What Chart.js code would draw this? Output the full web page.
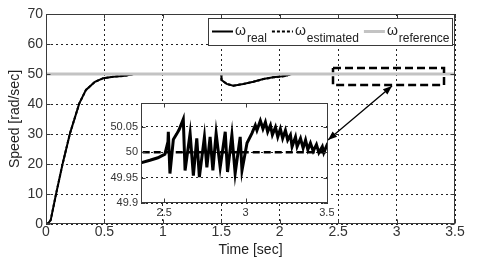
<!DOCTYPE html>
<html><head><meta charset="utf-8">
<script src="https://cdn.jsdelivr.net/npm/chart.js@4"></script>
<style>
html,body{margin:0;padding:0;background:#fff;}
#wrap{position:relative;width:480px;height:264px;overflow:hidden;}
#main{position:absolute;left:0;top:0;}
#inset{position:absolute;left:100px;top:93px;}
</style></head><body>
<div id="wrap"><canvas id="main" width="480" height="264"></canvas><canvas id="inset" width="234" height="135"></canvas></div>
<script>
// ---- data ----
const mainTime  = [0, 0.02, 0.04, 0.086, 0.143, 0.205, 0.285, 0.342, 0.419, 0.49, 0.576, 0.676, 0.75, 1.5, 1.502, 1.546, 1.603, 1.688, 1.774, 1.86, 1.945, 2.045, 2.1, 3.5];
const mainSpeed = [0, 0.3, 1.3, 10, 20.2, 30.2, 40.2, 44.7, 47.4, 48.6, 49.1, 49.4, 50, 50, 48.0, 46.7, 46.1, 46.7, 47.4, 48.3, 48.9, 49.3, 50, 50];
const refTime  = [0, 3.5];
const refSpeed = [50, 50];

const insetTime = [2.356, 2.412, 2.461, 2.504, 2.523, 2.525, 2.535, 2.556, 2.577, 2.591, 2.617, 2.628, 2.659, 2.679, 2.700, 2.716, 2.747, 2.762, 2.782, 2.799, 2.819, 2.844, 2.875, 2.889, 2.916, 2.936, 2.967, 2.978, 3.009, 3.039, 3.060, 3.070, 3.091, 3.107, 3.122, 3.136, 3.153, 3.165, 3.184, 3.198, 3.214, 3.228, 3.245, 3.259, 3.276, 3.286, 3.307, 3.317, 3.338, 3.354, 3.369, 3.383, 3.399, 3.416, 3.436, 3.451, 3.472, 3.481, 3.506];
const insetSpeed = [49.979, 49.984, 49.989, 49.996, 50.021, 50.040, 49.958, 50.025, 50.036, 50.044, 50.065, 49.964, 50.037, 49.954, 50.027, 49.951, 50.030, 49.970, 50.030, 49.964, 50.037, 49.970, 50.040, 49.961, 50.034, 49.958, 50.030, 49.964, 50.018, 50.037, 50.053, 50.043, 50.062, 50.046, 50.059, 50.040, 50.053, 50.034, 50.049, 50.030, 50.046, 50.027, 50.043, 50.024, 50.034, 50.011, 50.030, 50.011, 50.027, 50.008, 50.024, 50.005, 50.018, 50.002, 50.015, 49.999, 50.011, 49.999, 50.018];
const insetEstTime  = [2.3, 3.6];
const insetEstSpeed = [50, 50];

const mainXTicks  = [0, 0.5, 1, 1.5, 2, 2.5, 3, 3.5];
const mainYTicks  = [0, 10, 20, 30, 40, 50, 60, 70];
const insetXTicks = [2.5, 3, 3.5];
const insetYTicks = [49.9, 49.95, 50, 50.05];

const legendSymbol = 'ω';
const legendSubs = ['real', 'estimated', 'reference'];

const zoomBoxTime  = [2.456, 3.406, 3.406, 2.456, 2.456];
const zoomBoxSpeed = [52, 52, 46.3, 46.3, 52];
const arrowTime  = [2.413, 2.961];
const arrowSpeed = [28, 46];

// ---- helpers ----
const FONT = '"Liberation Sans", Arial, Helvetica, sans-serif';
const pts = (xs, ys) => xs.map((x, i) => ({x: x, y: ys[i]}));
const setTicks = arr => scale => { scale.ticks = arr.map(v => ({value: v})); };

const framePlugin = {
  id: 'frame',
  afterDatasetsDraw(chart) {
    const {ctx, chartArea: a, scales: {x, y}} = chart;
    ctx.save();
    ctx.setLineDash([]);
    ctx.strokeStyle = '#3a3a3a';
    ctx.lineWidth = 1;
    const l = Math.round(a.left) + 0.5, t = Math.round(a.top) + 0.5;
    const r = Math.round(a.right) - 0.5, b = Math.round(a.bottom) - 0.5;
    ctx.strokeRect(l, t, r - l, b - t);
    const L = 4;
    ctx.beginPath();
    x.ticks.forEach(tk => {
      const px = Math.round(x.getPixelForValue(tk.value)) + 0.5;
      ctx.moveTo(px, t); ctx.lineTo(px, t + L);
      ctx.moveTo(px, b); ctx.lineTo(px, b - L);
    });
    y.ticks.forEach(tk => {
      const py = Math.round(y.getPixelForValue(tk.value)) + 0.5;
      ctx.moveTo(l, py); ctx.lineTo(l + L, py);
      ctx.moveTo(r, py); ctx.lineTo(r - L, py);
    });
    ctx.stroke();
    ctx.restore();
  }
};

const whiteAreaPlugin = {
  id: 'whiteArea',
  beforeDraw(chart) {
    const {ctx, chartArea: a} = chart;
    ctx.save();
    ctx.fillStyle = '#fff';
    ctx.fillRect(a.left, a.top, a.right - a.left, a.bottom - a.top);
    ctx.restore();
  }
};

function head(ctx, x0, y0, x1, y1, len, w) {
  const ang = Math.atan2(y1 - y0, x1 - x0);
  ctx.beginPath();
  ctx.moveTo(x1, y1);
  ctx.lineTo(x1 - len * Math.cos(ang) + w * Math.sin(ang), y1 - len * Math.sin(ang) - w * Math.cos(ang));
  ctx.lineTo(x1 - len * Math.cos(ang) - w * Math.sin(ang), y1 - len * Math.sin(ang) + w * Math.cos(ang));
  ctx.closePath();
  ctx.fill();
}

const arrowPlugin = {
  id: 'arrow',
  afterDatasetsDraw(chart) {
    const {ctx, scales: {x, y}} = chart;
    const x0 = x.getPixelForValue(arrowTime[0]), y0 = y.getPixelForValue(arrowSpeed[0]);
    const x1 = x.getPixelForValue(arrowTime[1]), y1 = y.getPixelForValue(arrowSpeed[1]);
    ctx.save();
    ctx.strokeStyle = '#000'; ctx.fillStyle = '#000'; ctx.lineWidth = 1.3;
    ctx.beginPath(); ctx.moveTo(x0, y0); ctx.lineTo(x1, y1); ctx.stroke();
    head(ctx, x0, y0, x1, y1, 9, 3.5);
    head(ctx, x1, y1, x0, y0, 9, 3.5);
    ctx.restore();
  }
};

const legendPlugin = {
  id: 'subLegend',
  afterDraw(chart) {
    const {ctx, chartArea: a} = chart;
    const ds = chart.data.datasets.slice(0, 3);
    ctx.save();
    const symFont = '14px ' + FONT, subFont = '12px ' + FONT;
    const lineLen = 21, padL = 4, padR = 3, gap1 = 2, gap2 = 1, gapEntry = 5;
    ctx.font = symFont; const sw = ctx.measureText(legendSymbol).width;
    ctx.font = subFont; const subW = legendSubs.map(s => ctx.measureText(s).width);
    let total = padL;
    subW.forEach((w, i) => { total += lineLen + gap1 + sw + gap2 + w + (i < subW.length - 1 ? gapEntry : padR); });
    const right = Math.round(a.right) - 2, left = Math.round(right - total);
    const top = Math.round(a.top) + 4, bottom = top + 28;
    ctx.fillStyle = '#fff'; ctx.fillRect(left, top, right - left, bottom - top);
    ctx.strokeStyle = '#3a3a3a'; ctx.lineWidth = 1;
    ctx.strokeRect(left + 0.5, top + 0.5, right - left - 1, bottom - top - 1);
    let cx = left + padL; const ly = top + 13.5;
    ds.forEach((d, i) => {
      ctx.beginPath();
      ctx.setLineDash(d.borderDash || []);
      ctx.strokeStyle = d.borderColor; ctx.lineWidth = d.borderWidth;
      ctx.moveTo(cx, ly); ctx.lineTo(cx + lineLen, ly); ctx.stroke();
      ctx.setLineDash([]);
      cx += lineLen + gap1;
      ctx.fillStyle = '#222'; ctx.textBaseline = 'alphabetic'; ctx.textAlign = 'left';
      ctx.font = symFont; ctx.fillText(legendSymbol, cx, top + 16.5);
      cx += sw + gap2;
      ctx.font = subFont; ctx.fillText(legendSubs[i], cx, top + 24);
      cx += subW[i] + gapEntry;
    });
    ctx.restore();
  }
};

const gridOpts = () => ({color: '#222', lineWidth: 1, drawTicks: false});
const borderOpts = () => ({display: false, dash: [2, 3]});

// ---- main chart ----
new Chart(document.getElementById('main'), {
  type: 'line',
  data: {datasets: [
    {label: 'real', data: pts(mainTime, mainSpeed), borderColor: '#000', borderWidth: 2, pointRadius: 0, tension: 0, order: 2},
    {label: 'estimated', data: pts(mainTime, mainSpeed), borderColor: '#000', borderWidth: 2, borderDash: [3, 2], pointRadius: 0, tension: 0, order: 3},
    {label: 'reference', data: pts(refTime, refSpeed), borderColor: '#c3c3c3', borderWidth: 3, pointRadius: 0, order: 1},
    {label: 'zoom', data: pts(zoomBoxTime, zoomBoxSpeed), borderColor: '#000', borderWidth: 2.5, borderDash: [8, 4], pointRadius: 0, tension: 0, order: 0}
  ]},
  options: {
    responsive: false, animation: false, devicePixelRatio: 1,
    layout: {padding: {top: 14, right: 25, left: 0, bottom: 0}},
    plugins: {legend: {display: false}, tooltip: {enabled: false}},
    scales: {
      x: {type: 'linear', min: 0, max: 3.5, afterBuildTicks: setTicks(mainXTicks), afterFit: s => { s.height = 40; },
          grid: gridOpts(), border: borderOpts(),
          ticks: {font: {family: FONT, size: 14}, color: '#333', padding: 0, maxRotation: 0, callback: v => String(v)},
          title: {display: true, text: 'Time [sec]', font: {family: FONT, size: 14}, color: '#222', padding: {top: 0, bottom: 5}}},
      y: {type: 'linear', min: 0, max: 70, afterBuildTicks: setTicks(mainYTicks), afterFit: s => { s.width = 46; },
          grid: gridOpts(), border: borderOpts(),
          ticks: {font: {family: FONT, size: 14}, color: '#333', padding: 3, callback: v => String(v)},
          title: {display: true, text: 'Speed [rad/sec]', font: {family: FONT, size: 14}, color: '#222', padding: {top: 7, bottom: 0}}}
    }
  },
  plugins: [framePlugin, arrowPlugin, legendPlugin]
});

// ---- inset chart ----
new Chart(document.getElementById('inset'), {
  type: 'line',
  data: {datasets: [
    {label: 'real', data: pts(insetTime, insetSpeed), borderColor: '#000', borderWidth: 3, pointRadius: 0, tension: 0, order: 2},
    {label: 'estimated', data: pts(insetEstTime, insetEstSpeed), borderColor: '#000', borderWidth: 2.5, borderDash: [7, 4], pointRadius: 0, order: 1}
  ]},
  options: {
    responsive: false, animation: false, devicePixelRatio: 1,
    layout: {padding: {top: 6, right: 6, left: 0, bottom: 0}},
    plugins: {legend: {display: false}, tooltip: {enabled: false}},
    scales: {
      x: {type: 'linear', min: 2.357, max: 3.507, afterBuildTicks: setTicks(insetXTicks), afterFit: s => { s.height = 25; },
          grid: {display: false}, border: {display: false},
          ticks: {font: {family: FONT, size: 11}, color: '#333', padding: -5, maxRotation: 0, callback: v => String(v)}},
      y: {type: 'linear', min: 49.9, max: 50.0975, afterBuildTicks: setTicks(insetYTicks), afterFit: s => { s.width = 41; },
          grid: gridOpts(), border: borderOpts(),
          ticks: {font: {family: FONT, size: 11}, color: '#333', padding: 3, callback: v => String(v)}}
    }
  },
  plugins: [whiteAreaPlugin, framePlugin]
});
</script>
</body></html>
